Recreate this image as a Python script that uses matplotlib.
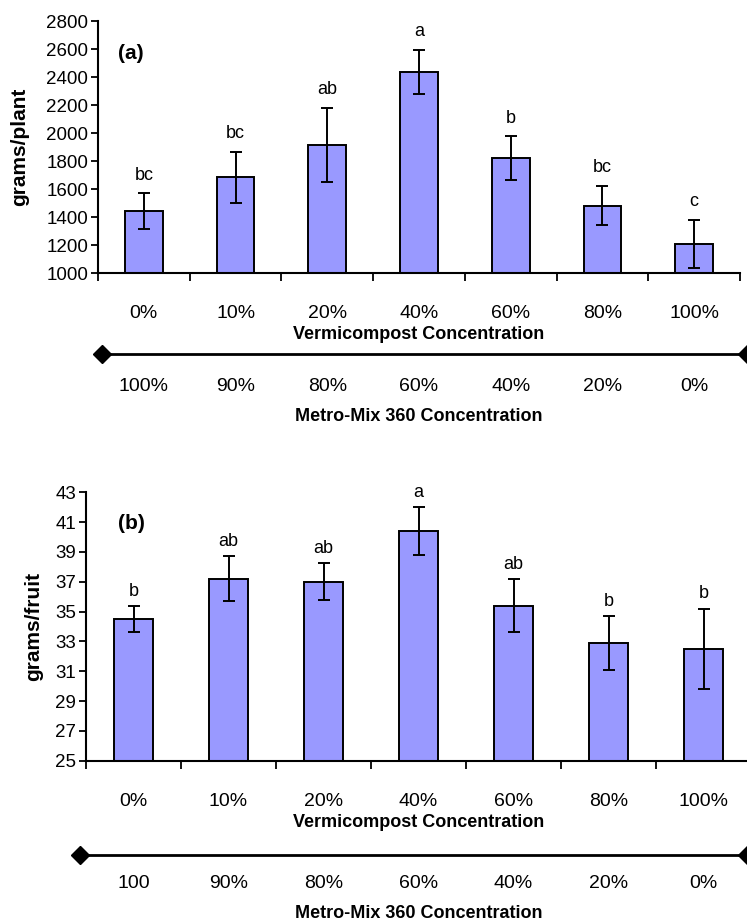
import matplotlib
matplotlib.use("Agg")
import matplotlib.pyplot as plt
import matplotlib.transforms as mtransforms
from matplotlib.lines import Line2D
import numpy as np

plt.rcParams['font.family'] = ['Liberation Sans', 'DejaVu Sans']

# data
verm_labels = ['0%', '10%', '20%', '40%', '60%', '80%', '100%']
metro_labels_a = ['100%', '90%', '80%', '60%', '40%', '20%', '0%']
metro_labels_b = ['100', '90%', '80%', '60%', '40%', '20%', '0%']

plant_mean = [1440, 1683, 1917, 2438, 1821, 1481, 1207]
plant_err = [128, 180, 265, 158, 155, 140, 170]
plant_letters = ['bc', 'bc', 'ab', 'a', 'b', 'bc', 'c']

fruit_mean = [34.5, 37.2, 37.0, 40.4, 35.4, 32.9, 32.5]
fruit_err = [0.85, 1.5, 1.25, 1.6, 1.8, 1.8, 2.7]
fruit_letters = ['b', 'ab', 'ab', 'a', 'ab', 'b', 'b']

W, H = 747, 923
BAR = '#9999ff'
NARROW = ['Liberation Sans Narrow', 'Liberation Sans', 'DejaVu Sans']

fig = plt.figure(figsize=(W / 100, H / 100), dpi=100)


def px_ax(x0, y0, x1, y1):
    # axes rectangle from pixel corners (top-left origin)
    return fig.add_axes([x0 / W, 1 - y1 / H, (x1 - x0) / W, (y1 - y0) / H])


def panel(ax, means, errs, letters, ylim, yticks, ylabel, tag, tagpos,
          letter_off, metro_labels, line_y, line_x0, metro_y, metro_title_y,
          ylabelpad):
    x = np.arange(len(means))
    ax.bar(x, means, width=0.41, color=BAR, edgecolor='black', linewidth=1.4,
           zorder=2)
    ax.errorbar(x, means, yerr=errs, fmt='none', ecolor='black', elinewidth=1.4,
                capsize=4, capthick=1.4, zorder=3)
    for xi, m, e, t in zip(x, means, errs, letters):
        ax.annotate(t, (xi, m + e), xytext=(0, letter_off),
                    textcoords='offset points', ha='center', va='bottom',
                    fontsize=13)
    ax.set_xlim(-0.5, len(means) - 0.5)
    ax.set_ylim(*ylim)
    ax.set_yticks(yticks)
    ax.tick_params(axis='y', labelsize=13.5, length=5, width=1.3, pad=2)
    for s in ['top', 'right']:
        ax.spines[s].set_visible(False)
    for s in ['left', 'bottom']:
        ax.spines[s].set_linewidth(1.5)
    # boundary ticks, labels at the category centres
    ax.set_xticks(np.arange(len(means) + 1) - 0.5)
    ax.set_xticklabels([])
    ax.tick_params(axis='x', which='major', length=6, width=1.3)
    ax.set_xticks(x, minor=True)
    ax.set_xticklabels(verm_labels, minor=True, fontsize=14, family=NARROW)
    ax.tick_params(axis='x', which='minor', length=0, pad=23)
    ax.set_xlabel('Vermicompost Concentration', fontsize=13, fontweight='bold',
                  family=NARROW, labelpad=3)
    ax.set_ylabel(ylabel, fontsize=15, fontweight='bold', labelpad=ylabelpad)
    ax.text(tagpos[0], tagpos[1], tag, transform=ax.transAxes, fontsize=15,
            fontweight='bold', va='center')

    # mixture axis underneath
    yfig = 1 - line_y / H
    fig.add_artist(Line2D([line_x0 / W, 1.0], [yfig, yfig], color='black',
                          linewidth=2, marker='D', markersize=9,
                          transform=fig.transFigure, clip_on=False))
    blend = mtransforms.blended_transform_factory(ax.transData, fig.transFigure)
    for xi, t in zip(x, metro_labels):
        ax.text(xi, 1 - metro_y / H, t, transform=blend, ha='center',
                va='center', fontsize=14, family=NARROW, clip_on=False)
    ax.text(0.5 * (len(means) - 1), 1 - metro_title_y / H,
            'Metro-Mix 360 Concentration', transform=blend, ha='center',
            va='center', fontsize=13, fontweight='bold', family=NARROW)


ax1 = px_ax(98, 21, 740, 273)
panel(ax1, plant_mean, plant_err, plant_letters, (1000, 2800),
      np.arange(1000, 2801, 200), 'grams/plant', '(a)', (0.031, 0.873),
      7, metro_labels_a, 354, 102, 386, 417, 12)

ax2 = px_ax(86, 492.3, 751, 760.7)
panel(ax2, fruit_mean, fruit_err, fruit_letters, (25, 43),
      np.arange(25, 44, 2), 'grams/fruit', '(b)', (0.048, 0.882),
      4.5, metro_labels_b, 855, 80, 883, 914, 9)

fig.savefig('out.png', dpi=100)
